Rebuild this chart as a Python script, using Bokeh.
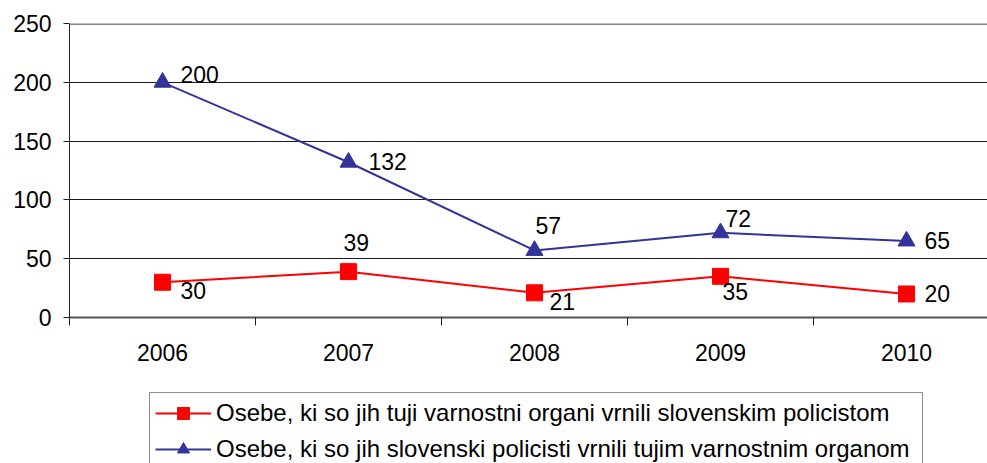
from bokeh.plotting import figure
from bokeh.layouts import column
from bokeh.models import Range1d, FixedTicker, Span, Legend, LegendItem, ColumnDataSource
from bokeh.core.properties import value
from bokeh.embed import file_html
from bokeh.resources import INLINE

# ---- data ----
years = ["2006", "2007", "2008", "2009", "2010"]
returned_to_slovenian_police = [30, 39, 21, 35, 20]
returned_to_foreign_authorities = [200, 132, 57, 72, 65]
y_ticks = [0, 50, 100, 150, 200, 250]
label_red = "Osebe, ki so jih tuji varnostni organi vrnili slovenskim policistom"
label_blue = "Osebe, ki so jih slovenski policisti vrnili tujim varnostnim organom"

# data label offsets in pixels (style only)
red_dx = [18, -5, 15, 2, 18]
red_dy = [8, -29, 9, 15, 0]
blue_dx = [18, 20, 1, 5, 18]
blue_dy = [-8, -1, -25, -14, -1]

FONT = "Liberation Sans"
RED = "#FF0000"
BLUE = "#333399"

xs = list(range(len(years)))
cat_px = 186.0
frame_w = 987 - 69

p = figure(width=987, height=373, output_backend="svg", toolbar_location=None,
           x_range=Range1d(-0.5, -0.5 + frame_w / cat_px), y_range=Range1d(0, 250),
           min_border_left=69, min_border_right=0, min_border_top=23, min_border_bottom=56)
p.outline_line_color = None
p.background_fill_color = "white"
p.border_fill_color = "white"

# grid
p.xgrid.visible = False
p.ygrid.ticker = FixedTicker(ticks=y_ticks)
p.ygrid.grid_line_color = "#1a1a1a"
p.ygrid.grid_line_width = 1

# y axis
p.yaxis.ticker = FixedTicker(ticks=y_ticks)
p.yaxis.axis_line_color = "#222222"
p.yaxis.axis_line_width = 1
p.yaxis.major_tick_out = 6
p.yaxis.major_tick_in = 0
p.yaxis.minor_tick_out = 0
p.yaxis.minor_tick_in = 0
p.yaxis.major_tick_line_color = "#222222"
p.yaxis.major_label_standoff = 12
p.yaxis.major_label_text_font = FONT
p.yaxis.major_label_text_font_size = "23px"
p.yaxis.major_label_text_color = "black"

# x axis
p.xaxis.ticker = FixedTicker(ticks=xs, minor_ticks=[i - 0.5 for i in range(len(years) + 1)])
p.xaxis.major_label_overrides = {i: y for i, y in enumerate(years)}
p.xaxis.major_tick_out = 0
p.xaxis.major_tick_in = 0
p.xaxis.minor_tick_out = 8
p.xaxis.minor_tick_in = 0
p.xaxis.minor_tick_line_color = "#222222"
p.xaxis.axis_line_color = "#555555"
p.xaxis.axis_line_width = 2
p.xaxis.major_label_standoff = 18
p.xaxis.major_label_text_font = FONT
p.xaxis.major_label_text_font_size = "23px"
p.xaxis.major_label_text_color = "black"

# top border
p.add_layout(Span(location=250, dimension="width", line_color="#888888", line_width=3))

red_src = ColumnDataSource(dict(x=xs, y=returned_to_slovenian_police,
                                t=[str(v) for v in returned_to_slovenian_police],
                                dx=red_dx, dy=red_dy))
blue_src = ColumnDataSource(dict(x=xs, y=returned_to_foreign_authorities,
                                 t=[str(v) for v in returned_to_foreign_authorities],
                                 dx=blue_dx, dy=blue_dy))

p.line("x", "y", source=blue_src, line_color=BLUE, line_width=2)
p.scatter("x", "y", source=blue_src, marker="triangle", size=17,
          fill_color=BLUE, line_color=BLUE)
p.line("x", "y", source=red_src, line_color=RED, line_width=2)
p.scatter("x", "y", source=red_src, marker="square", size=16,
          fill_color=RED, line_color=RED)

for src in (blue_src, red_src):
    p.text("x", "y", text="t", source=src, x_offset="dx", y_offset="dy",
           text_font=value(FONT), text_font_size="23px", text_color="black",
           text_align="left", text_baseline="middle")

# ---- legend strip (own figure so the legend is not clipped by the chart frame) ----
lh = 463 - 373
q = figure(width=987, height=lh, output_backend="svg", toolbar_location=None,
           x_axis_type=None, y_axis_type=None,
           x_range=Range1d(-0.5, 0.5), y_range=Range1d(-1, 0),
           min_border_left=0, min_border_right=0, min_border_top=0, min_border_bottom=0)
q.grid.visible = False
q.outline_line_color = None
q.background_fill_color = "white"
q.border_fill_color = "white"
# same series; their points lie outside this strip's ranges, only the legend glyphs show
qrl = q.line("x", "y", source=red_src, line_color=RED, line_width=2)
qrs = q.scatter("x", "y", source=red_src, marker="square", size=16, fill_color=RED, line_color=RED)
qbl = q.line("x", "y", source=blue_src, line_color=BLUE, line_width=2)
qbs = q.scatter("x", "y", source=blue_src, marker="triangle", size=17, fill_color=BLUE, line_color=BLUE)

legend = Legend(items=[LegendItem(label=label_red, renderers=[qrl, qrs]),
                       LegendItem(label=label_blue, renderers=[qbl, qbs])],
                location=(80, lh - 21 - 76), orientation="vertical")
legend.border_line_color = "#222222"
legend.border_line_width = 1
legend.background_fill_color = "white"
legend.background_fill_alpha = 1
legend.glyph_width = 56
legend.glyph_height = 30
legend.label_height = 30
legend.label_width = 701
legend.label_standoff = 5
legend.spacing = 6
legend.padding = 5
legend.margin = 0
legend.label_text_font = FONT
legend.label_text_font_size = "24px"
legend.label_text_color = "black"
legend.label_text_baseline = "middle"
q.add_layout(legend, "center")

layout = column(p, q, spacing=0)
open("out.html", "w").write(file_html(layout, INLINE))
